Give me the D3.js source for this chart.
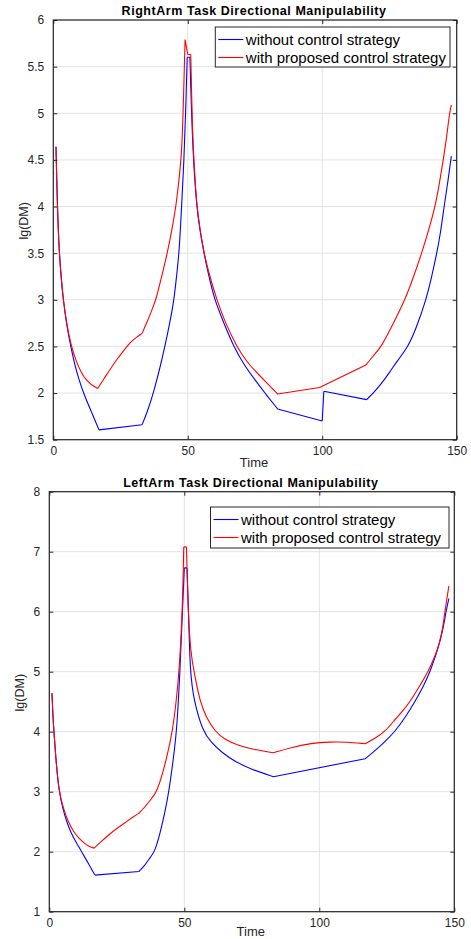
<!DOCTYPE html>
<html>
<head>
<meta charset="utf-8">
<script src="https://cdn.jsdelivr.net/npm/d3@7"></script>
<style>
  body { margin: 0; background: #fff; }
  svg { display: block; font-family: "Liberation Sans", Arial, sans-serif; }
</style>
</head>
<body>
<div id="chart"></div>
<script>
// ---- data ----
const seriesNames = ["without control strategy", "with proposed control strategy"];
const seriesColors = ["#0000ff", "#ff0000"];

// RightArm, without control strategy
const rightBlueT = [1, 1.5, 2.2, 3, 3.7, 5, 6.5, 8, 9.5, 11.2, 14.3, 17, 33, 35, 37.2, 39.5, 41.5, 43.3, 44.9, 45.8, 46.8, 47.7, 48.6, 49.2, 49.8, 50.8, 51.8, 53.3, 54.5, 56, 58, 60, 63, 67, 71, 75, 78.7, 83.4, 100, 100.6, 116.5, 119, 122, 125, 128, 132, 135, 138.6, 140.5, 142.6, 144, 145.3, 146.5, 148];
const rightBlueV = [4.64, 4.0, 3.5, 3.22, 3.0, 2.72, 2.5, 2.3, 2.15, 2.0, 1.79, 1.605, 1.66, 1.8, 2.0, 2.25, 2.5, 2.75, 3.0, 3.25, 3.5, 4.0, 4.5, 5.0, 5.6, 5.6, 4.6, 4.0, 3.75, 3.5, 3.23, 3.0, 2.78, 2.5, 2.3, 2.14, 2.0, 1.83, 1.70, 2.02, 1.93, 2.0, 2.1, 2.22, 2.35, 2.5, 2.7, 3.0, 3.22, 3.5, 3.72, 4.0, 4.22, 4.54];
const rightBlueCorners = [17, 33, 49.8, 50.8, 83.4, 100, 100.6, 116.5];
// RightArm, with proposed control strategy
const rightRedT = [1, 1.5, 2.2, 3, 3.7, 5, 6.5, 8.5, 10.5, 12.5, 14.5, 16.5, 19, 21, 23.6, 26, 28.5, 31, 33, 35, 36.5, 38.2, 40.3, 42.4, 44.1, 45.6, 46.6, 47.5, 48.1, 49, 50, 51.1, 51.8, 52.3, 53.3, 54.6, 56, 58.2, 60.8, 64, 68.2, 72, 76, 80, 83.4, 99, 116.2, 119, 122.1, 126.5, 130.8, 134, 137, 139.6, 142, 143.6, 145, 146.3, 147.3, 148];
const rightRedV = [4.64, 4.0, 3.5, 3.22, 3.0, 2.74, 2.52, 2.34, 2.21, 2.13, 2.08, 2.05, 2.16, 2.25, 2.36, 2.45, 2.54, 2.6, 2.64, 2.77, 2.88, 3.0, 3.25, 3.5, 3.75, 4.0, 4.25, 4.5, 4.8, 5.79, 5.63, 5.63, 4.75, 4.5, 4.0, 3.75, 3.5, 3.25, 3.0, 2.75, 2.5, 2.33, 2.21, 2.09, 1.99, 2.06, 2.30, 2.4, 2.5, 2.75, 3.0, 3.25, 3.5, 3.75, 4.0, 4.25, 4.5, 4.75, 5.0, 5.09];
const rightRedCorners = [16.5, 33, 49, 50, 51.1, 83.4, 99, 116.2];

// LeftArm, without control strategy
const leftBlueT = [1, 1.4, 1.74, 2.5, 3.6, 5, 6.4, 8, 10, 12, 14.5, 16.9, 33.2, 35, 37, 39.1, 41, 42.8, 44.3, 45.8, 47.2, 48.4, 49.3, 50, 51, 51.6, 52.1, 53.6, 56.9, 60, 64, 68.8, 75, 83, 117, 120, 124, 128, 132, 135.4, 138.5, 141, 143, 144.7, 146, 146.9, 148];
const leftBlueV = [4.64, 4.2, 4.0, 3.5, 3.0, 2.72, 2.5, 2.32, 2.15, 2.0, 1.8, 1.61, 1.67, 1.75, 1.88, 2.0, 2.3, 2.65, 3.0, 3.5, 4.0, 5.0, 6.0, 6.73, 6.73, 6.0, 5.0, 4.5, 4.0, 3.82, 3.65, 3.5, 3.37, 3.25, 3.55, 3.66, 3.82, 4.0, 4.25, 4.5, 4.75, 5.0, 5.25, 5.5, 5.75, 6.0, 6.22];
const leftBlueCorners = [16.9, 33.2, 50, 51, 83, 117];
// LeftArm, with proposed control strategy
const leftRedT = [1, 1.4, 1.74, 2.5, 3.6, 5.2, 7, 9, 11, 13, 15, 16.6, 19, 22, 25, 28, 31, 33.2, 35.5, 37.8, 39.8, 42, 43.9, 45.6, 47, 48.1, 49.3, 49.8, 50.8, 51.4, 52.4, 53.6, 55.8, 58, 61.4, 65, 70, 76, 83, 90, 97, 104, 110, 117, 121, 124.3, 128, 131, 133.6, 137, 140.3, 142.8, 144.7, 145.8, 146.5, 148];
const leftRedV = [4.64, 4.2, 4.0, 3.5, 3.0, 2.72, 2.5, 2.33, 2.22, 2.14, 2.08, 2.06, 2.16, 2.28, 2.39, 2.48, 2.58, 2.64, 2.75, 2.88, 3.0, 3.3, 3.65, 4.0, 4.5, 5.0, 6.0, 7.08, 7.08, 6.0, 5.3, 5.0, 4.5, 4.25, 4.0, 3.87, 3.77, 3.7, 3.65, 3.74, 3.81, 3.83, 3.83, 3.8, 3.9, 4.0, 4.2, 4.35, 4.5, 4.75, 5.0, 5.25, 5.5, 5.75, 6.0, 6.43];
const leftRedCorners = [16.6, 33.2, 49.8, 50.8, 83, 117];

const xTicks = [0, 50, 100, 150];
const rightYTicks = [1.5, 2, 2.5, 3, 3.5, 4, 4.5, 5, 5.5, 6];
const leftYTicks = [1, 2, 3, 4, 5, 6, 7, 8];

const W = 471, H = 939;
const ink = "#262626";

const svg = d3.select("#chart").append("svg")
    .attr("width", W)
    .attr("height", H);

// split a series at its corner times so the smoothing keeps the sharp kinks
function segments(t, v, corners) {
    const out = [];
    let cur = [];
    t.forEach((tt, k) => {
        cur.push([tt, v[k]]);
        if (corners.includes(tt) && cur.length > 1) {
            out.push(cur);
            cur = [[tt, v[k]]];
        }
    });
    if (cur.length > 1) out.push(cur);
    return out;
}

function drawPanel(opts) {
    const { left, right, top, bottom, yDomain, yTicks, title, series, legend } = opts;

    const x = d3.scaleLinear().domain([0, 150]).range([left, right]);
    const y = d3.scaleLinear().domain(yDomain).range([bottom, top]);

    const g = svg.append("g");

    // grid
    g.selectAll(".gx").data(xTicks).enter().append("line")
        .attr("x1", d => x(d)).attr("x2", d => x(d))
        .attr("y1", top).attr("y2", bottom)
        .attr("stroke", "#e3e3e3").attr("stroke-width", 1);
    g.selectAll(".gy").data(yTicks).enter().append("line")
        .attr("x1", left).attr("x2", right)
        .attr("y1", d => y(d)).attr("y2", d => y(d))
        .attr("stroke", "#e3e3e3").attr("stroke-width", 1);

    // curves
    const line = d3.line()
        .x(d => x(d[0]))
        .y(d => y(d[1]))
        .curve(d3.curveBasis);
    series.forEach((s, i) => {
        const segs = segments(s.t, s.v, s.corners);
        const d = segs.map(seg => line(seg)).join("");
        g.append("path")
            .attr("fill", "none")
            .attr("stroke", seriesColors[i])
            .attr("stroke-width", 1.1)
            .attr("stroke-linejoin", "round")
            .attr("d", d);
    });

    // axes (ticks inward, box on)
    const tickLen = 4;
    g.append("g")
        .attr("transform", `translate(0,${bottom})`)
        .call(d3.axisBottom(x).tickValues(xTicks).tickSize(-tickLen).tickPadding(7).tickSizeOuter(0))
        .call(a => a.select(".domain").remove())
        .call(a => a.selectAll("line").attr("stroke", ink))
        .call(a => a.selectAll("text").attr("fill", ink).style("font-size", "12px"));
    g.append("g")
        .attr("transform", `translate(0,${top})`)
        .call(d3.axisTop(x).tickValues(xTicks).tickSize(-tickLen).tickFormat("").tickSizeOuter(0))
        .call(a => a.select(".domain").remove())
        .call(a => a.selectAll("line").attr("stroke", ink));
    g.append("g")
        .attr("transform", `translate(${left},0)`)
        .call(d3.axisLeft(y).tickValues(yTicks).tickSize(-tickLen).tickPadding(9).tickFormat(d3.format("")).tickSizeOuter(0))
        .call(a => a.select(".domain").remove())
        .call(a => a.selectAll("line").attr("stroke", ink))
        .call(a => a.selectAll("text").attr("fill", ink).style("font-size", "12px"));
    g.append("g")
        .attr("transform", `translate(${right},0)`)
        .call(d3.axisRight(y).tickValues(yTicks).tickSize(-tickLen).tickFormat("").tickSizeOuter(0))
        .call(a => a.select(".domain").remove())
        .call(a => a.selectAll("line").attr("stroke", ink));

    g.append("rect")
        .attr("x", left).attr("y", top)
        .attr("width", right - left).attr("height", bottom - top)
        .attr("fill", "none").attr("stroke", ink).attr("stroke-width", 1.2);

    // labels
    g.append("text")
        .attr("x", (left + right) / 2 - 1).attr("y", top - 5)
        .attr("text-anchor", "middle")
        .style("font-size", "12.5px").style("font-weight", "bold")
        .style("letter-spacing", "0.55px")
        .attr("fill", "#000")
        .text(title);
    g.append("text")
        .attr("x", (left + right) / 2 - 1).attr("y", Math.min(bottom + 27, H - 3))
        .attr("text-anchor", "middle")
        .style("font-size", "13px").attr("fill", ink)
        .text("Time");
    g.append("text")
        .attr("transform", `translate(${left - 25},${(top + bottom) / 2 - 9}) rotate(-90)`)
        .attr("text-anchor", "middle")
        .style("font-size", "12.5px").attr("fill", ink)
        .text("lg(DM)");

    // legend
    const lg = g.append("g");
    lg.append("rect")
        .attr("x", legend.x).attr("y", legend.y)
        .attr("width", legend.w).attr("height", legend.h)
        .attr("fill", "#fff").attr("stroke", ink).attr("stroke-width", 1);
    seriesNames.forEach((name, i) => {
        const cy = legend.y + 12.5 + i * 18;
        lg.append("line")
            .attr("x1", legend.x + 3).attr("x2", legend.x + 28)
            .attr("y1", cy).attr("y2", cy)
            .attr("stroke", seriesColors[i]).attr("stroke-width", 1.1);
        lg.append("text")
            .attr("x", legend.x + 30.5).attr("y", cy + 5)
            .style("font-size", "15px").attr("fill", "#000")
            .text(name);
    });
}

drawPanel({
    left: 53.3, right: 456.7, top: 20, bottom: 439.7,
    yDomain: [1.5, 6], yTicks: rightYTicks,
    title: "RightArm Task Directional Manipulability",
    series: [
        { t: rightBlueT, v: rightBlueV, corners: rightBlueCorners },
        { t: rightRedT, v: rightRedV, corners: rightRedCorners }
    ],
    legend: { x: 215.3, y: 27, w: 234.7, h: 40 }
});

drawPanel({
    left: 49.3, right: 454.3, top: 491.7, bottom: 911.7,
    yDomain: [1, 8], yTicks: leftYTicks,
    title: "LeftArm Task Directional Manipulability",
    series: [
        { t: leftBlueT, v: leftBlueV, corners: leftBlueCorners },
        { t: leftRedT, v: leftRedV, corners: leftRedCorners }
    ],
    legend: { x: 210.5, y: 507, w: 238.5, h: 41 }
});
</script>
</body>
</html>
